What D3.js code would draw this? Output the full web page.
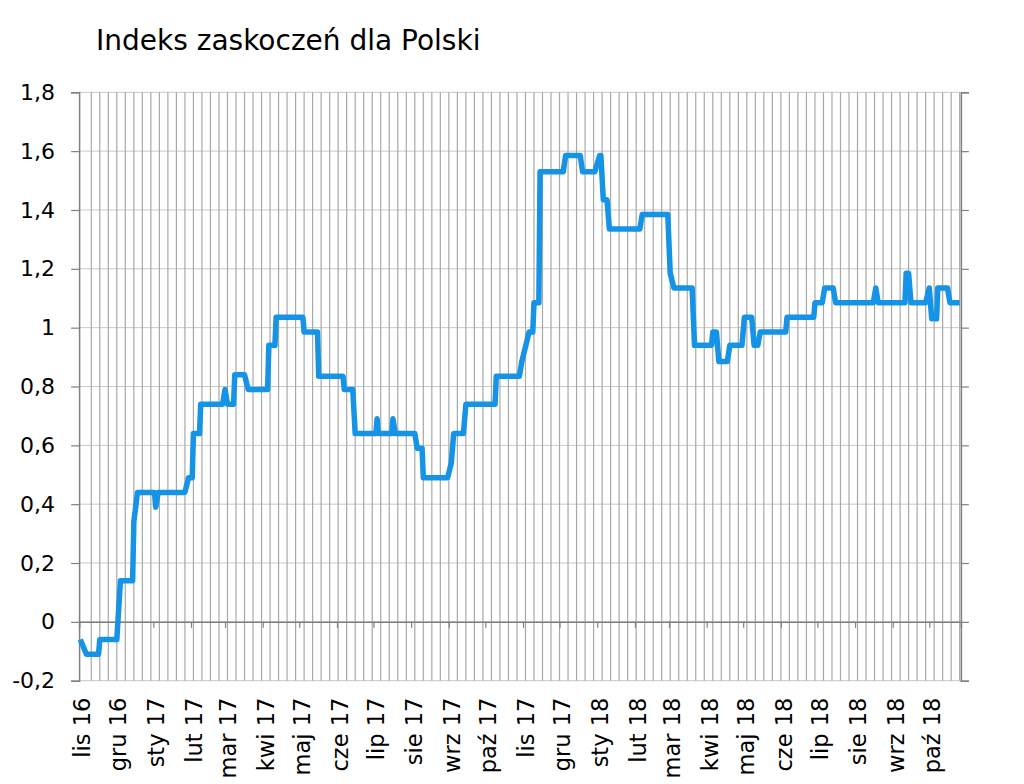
<!DOCTYPE html>
<html>
<head>
<meta charset="utf-8">
<script src="https://cdn.jsdelivr.net/npm/d3@7/dist/d3.min.js"></script>
<style>
  html, body { margin: 0; padding: 0; background: #fff; }
  svg { display: block; }
  text { font-family: "DejaVu Sans", Verdana, sans-serif; fill: #000; }
</style>
</head>
<body>
<svg id="chart" width="1024" height="784"></svg>
<script>
const title = "Indeks zaskoczeń dla Polski";

const monthLabels = ["lis 16","gru 16","sty 17","lut 17","mar 17","kwi 17","maj 17","cze 17",
  "lip 17","sie 17","wrz 17","paź 17","lis 17","gru 17","sty 18","lut 18","mar 18","kwi 18",
  "maj 18","cze 18","lip 18","sie 18","wrz 18","paź 18"];

const yTicks = [-0.2, 0, 0.2, 0.4, 0.6, 0.8, 1.0, 1.2, 1.4, 1.6, 1.8];
const yTickLabels = ["-0,2","0","0,2","0,4","0,6","0,8","1","1,2","1,4","1,6","1,8"];

const dates = [
  "2016-11-02","2016-11-07","2016-11-17","2016-11-18","2016-12-02","2016-12-05","2016-12-15","2016-12-16",
  "2016-12-19","2017-01-02","2017-01-03","2017-01-05","2017-01-27","2017-01-30","2017-02-02","2017-02-03",
  "2017-02-08","2017-02-09","2017-02-27","2017-03-01","2017-03-03","2017-03-08","2017-03-09","2017-03-17",
  "2017-03-20","2017-04-05","2017-04-06","2017-04-11","2017-04-12","2017-05-04","2017-05-05","2017-05-16",
  "2017-05-17","2017-06-06","2017-06-07","2017-06-14","2017-06-16","2017-07-03","2017-07-04","2017-07-05",
  "2017-07-16","2017-07-17","2017-07-19","2017-08-04","2017-08-06","2017-08-10","2017-08-11","2017-08-31",
  "2017-09-03","2017-09-05","2017-09-13","2017-09-15","2017-10-09","2017-10-10","2017-10-29","2017-10-31",
  "2017-11-06","2017-11-09","2017-11-10","2017-11-14","2017-11-15","2017-12-04","2017-12-06","2017-12-18",
  "2017-12-20","2017-12-30","2018-01-03","2018-01-04","2018-01-06","2018-01-09","2018-01-11","2018-02-05",
  "2018-02-07","2018-02-28","2018-03-02","2018-03-05","2018-03-20","2018-03-22","2018-04-05","2018-04-06",
  "2018-04-09","2018-04-11","2018-04-18","2018-04-20","2018-04-30","2018-05-02","2018-05-08","2018-05-10",
  "2018-05-13","2018-05-15","2018-06-05","2018-06-06","2018-06-28","2018-06-29","2018-07-05","2018-07-07",
  "2018-07-14","2018-07-16","2018-08-16","2018-08-18","2018-08-20","2018-09-11","2018-09-12","2018-09-14",
  "2018-09-16","2018-09-28","2018-10-01","2018-10-03","2018-10-07","2018-10-08","2018-10-16","2018-10-18",
  "2018-10-26"
];

const values = [
  -0.06,-0.11,-0.11,-0.06,-0.06,0.14,0.14,0.34,
  0.44,0.44,0.39,0.44,0.44,0.49,0.49,0.64,
  0.64,0.74,0.74,0.79,0.74,0.74,0.84,0.84,
  0.79,0.79,0.94,0.94,1.035,1.035,0.985,0.985,
  0.835,0.835,0.79,0.79,0.64,0.64,0.69,0.64,
  0.64,0.69,0.64,0.64,0.59,0.59,0.49,0.49,
  0.54,0.64,0.64,0.74,0.74,0.835,0.835,0.885,
  0.985,0.985,1.085,1.085,1.53,1.53,1.585,1.585,
  1.53,1.53,1.585,1.585,1.435,1.435,1.335,1.335,
  1.385,1.385,1.185,1.135,1.135,0.94,0.94,0.985,
  0.985,0.885,0.885,0.94,0.94,1.035,1.035,0.94,
  0.94,0.985,0.985,1.035,1.035,1.085,1.085,1.135,
  1.135,1.085,1.085,1.135,1.085,1.085,1.185,1.185,
  1.085,1.085,1.135,1.03,1.03,1.135,1.135,1.085,
  1.085
];

const parse = d3.utcParse("%Y-%m-%d");
const data = dates.map((d, i) => ({ date: parse(d), value: values[i] }));

const svg = d3.select("#chart");
const pLeft = 79.1, pRight = 960.9, pTop = 92.3, pBottom = 680.7;

const x = d3.scaleUtc()
  .domain([parse("2016-11-01"), parse("2018-10-27")])
  .range([pLeft, pRight]);
const y = d3.scaleLinear().domain([-0.2, 1.8]).range([pBottom, pTop]);

// horizontal gridlines
svg.append("g").selectAll("line").data(yTicks).join("line")
  .attr("x1", pLeft).attr("x2", pRight)
  .attr("y1", d => y(d)).attr("y2", d => y(d))
  .attr("stroke", "#c8c8c8").attr("stroke-width", 1);

// weekly vertical gridlines
const weeks = d3.utcFriday.range(parse("2016-11-11"), parse("2018-10-27"));
svg.append("g").selectAll("line").data(weeks).join("line")
  .attr("x1", d => x(d)).attr("x2", d => x(d))
  .attr("y1", pTop).attr("y2", pBottom)
  .attr("stroke", "#a8a8a8").attr("stroke-width", 1.2);

// left axis
const yAxisL = d3.axisLeft(y).tickValues(yTicks).tickSize(8)
  .tickFormat((d, i) => yTickLabels[i]).tickPadding(16);
const gL = svg.append("g").attr("transform", `translate(${pLeft},0)`).call(yAxisL);
gL.select(".domain").attr("stroke", "#808080").attr("stroke-width", 1.5);
gL.selectAll(".tick line").attr("stroke", "#808080").attr("stroke-width", 1.2);
gL.selectAll(".tick text").attr("font-size", 22).attr("font-family", "DejaVu Sans").attr("fill", "#000");

// right axis (ticks only)
const yAxisR = d3.axisRight(y).tickValues(yTicks).tickSize(8).tickFormat("");
const gR = svg.append("g").attr("transform", `translate(${pRight},0)`).call(yAxisR);
gR.select(".domain").attr("stroke", "#808080").attr("stroke-width", 1.5);
gR.selectAll(".tick line").attr("stroke", "#808080").attr("stroke-width", 1.2);

// zero line with month ticks
const months = d3.utcMonth.range(parse("2016-11-01"), parse("2018-10-27"));
const xAxis = d3.axisBottom(x).tickValues(months).tickSize(6).tickFormat("");
const gX = svg.append("g").attr("transform", `translate(0,${y(0)})`).call(xAxis);
gX.select(".domain").attr("stroke", "#808080").attr("stroke-width", 1.5);
gX.selectAll(".tick line").attr("stroke", "#808080").attr("stroke-width", 1.2);

// month labels at bottom, rotated
svg.append("g").selectAll("text").data(months).join("text")
  .attr("transform", d => `translate(${x(d) + 3},${pBottom + 17}) rotate(-90)`)
  .attr("text-anchor", "end")
  .attr("dy", "0.35em")
  .attr("font-size", 22.5)
  .text((d, i) => monthLabels[i]);

// line
const line = d3.line().x(d => x(d.date)).y(d => y(d.value));
svg.append("path").datum(data)
  .attr("d", line)
  .attr("fill", "none")
  .attr("stroke", "#1593e6")
  .attr("stroke-width", 5.5)
  .attr("stroke-linejoin", "round")
  .attr("stroke-linecap", "butt");

// title
svg.append("text").attr("x", 96).attr("y", 50)
  .attr("font-size", 28).text(title);
</script>
</body>
</html>
